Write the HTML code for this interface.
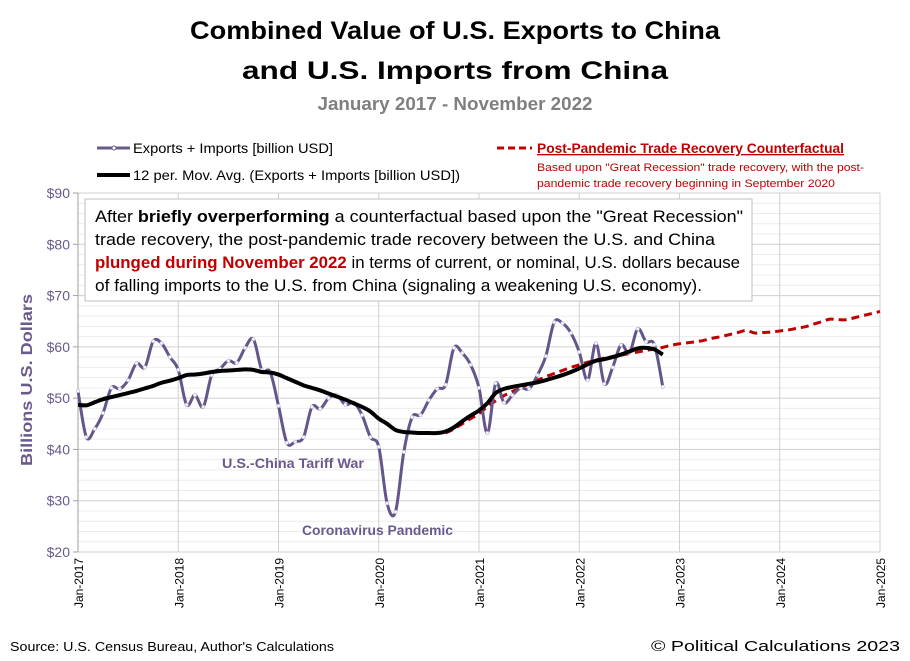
<!DOCTYPE html>
<html><head><meta charset="utf-8"><style>
body{margin:0;background:#fff;}
svg{display:block;font-family:"Liberation Sans",sans-serif;}
</style></head><body>
<svg id="chart" width="910" height="661" viewBox="0 0 910 661" xmlns="http://www.w3.org/2000/svg">
<rect width="910" height="661" fill="#fff"/>
<text x="455" y="39" text-anchor="middle" font-size="25" font-weight="bold" textLength="530" lengthAdjust="spacingAndGlyphs">Combined Value of U.S. Exports to China</text>
<text x="455" y="79" text-anchor="middle" font-size="25" font-weight="bold" textLength="426" lengthAdjust="spacingAndGlyphs">and U.S. Imports from China</text>
<text x="455" y="110" text-anchor="middle" font-size="18" font-weight="bold" fill="#7f7f7f" textLength="275" lengthAdjust="spacingAndGlyphs">January 2017 - November 2022</text>
<g id="grid"></g>
<g id="axes"></g>
<g id="series"></g>
<rect x="85" y="199" width="667" height="102" fill="#fff" stroke="#bfbfbf" stroke-width="1"/>
<g font-size="16.5">
<text x="95" y="222" textLength="648" lengthAdjust="spacingAndGlyphs">After <tspan font-weight="bold">briefly overperforming</tspan> a counterfactual based upon the "Great Recession"</text>
<text x="95" y="245" textLength="620" lengthAdjust="spacingAndGlyphs">trade recovery, the post-pandemic trade recovery between the U.S. and China</text>
<text x="95" y="268" textLength="645" lengthAdjust="spacingAndGlyphs"><tspan font-weight="bold" fill="#c00000">plunged during November 2022</tspan> in terms of current, or nominal, U.S. dollars because</text>
<text x="95" y="291" textLength="607" lengthAdjust="spacingAndGlyphs">of falling imports to the U.S. from China (signaling a weakening U.S. economy).</text>
</g>
<g>
<line x1="97" y1="148" x2="130" y2="148" stroke="#6a5a8c" stroke-width="3"/>
<circle cx="114" cy="148" r="2" fill="#fff" stroke="#6a5a8c"/>
<text x="133" y="153" font-size="13.5" textLength="200" lengthAdjust="spacingAndGlyphs">Exports + Imports [billion USD]</text>
<line x1="97" y1="175" x2="130" y2="175" stroke="#000" stroke-width="4"/>
<text x="133" y="180" font-size="13.5" textLength="327" lengthAdjust="spacingAndGlyphs">12 per. Mov. Avg. (Exports + Imports [billion USD])</text>
<line x1="497" y1="148" x2="532" y2="148" stroke="#c00000" stroke-width="3" stroke-dasharray="7,4"/>
<text x="537" y="153" font-size="13.5" font-weight="bold" fill="#c00000" text-decoration="underline" textLength="307" lengthAdjust="spacingAndGlyphs">Post-Pandemic Trade Recovery Counterfactual</text>
<text x="537" y="171" font-size="11" fill="#c00000" textLength="327" lengthAdjust="spacingAndGlyphs">Based upon "Great Recession" trade recovery, with the post-</text>
<text x="537" y="187" font-size="11" fill="#c00000" textLength="298" lengthAdjust="spacingAndGlyphs">pandemic trade recovery beginning in September  2020</text>
</g>
<text x="222" y="468" font-size="13.5" font-weight="bold" fill="#6a5a8c" textLength="142" lengthAdjust="spacingAndGlyphs">U.S.-China Tariff War</text>
<text x="302" y="535" font-size="13.5" font-weight="bold" fill="#6a5a8c" textLength="151" lengthAdjust="spacingAndGlyphs">Coronavirus Pandemic</text>
<text transform="translate(32,380) rotate(-90)" text-anchor="middle" font-size="16" font-weight="bold" fill="#6a5a8c" textLength="172" lengthAdjust="spacingAndGlyphs">Billions U.S. Dollars</text>
<text x="10" y="651" font-size="13" textLength="324" lengthAdjust="spacingAndGlyphs">Source: U.S. Census Bureau, Author's Calculations</text>
<text x="900" y="651" text-anchor="end" font-size="15" textLength="249" lengthAdjust="spacingAndGlyphs">© Political Calculations 2023</text>
</svg>
<script>
const yTicks=[20,30,40,50,60,70,80,90];
const yTickLabels=["$20","$30","$40","$50","$60","$70","$80","$90"];
const xTickLabels=["Jan-2017","Jan-2018","Jan-2019","Jan-2020","Jan-2021","Jan-2022","Jan-2023","Jan-2024","Jan-2025"];
const exportsImports=[51.4,42.4,44,47.1,52,51.8,53.5,56.8,56,61.1,60.7,58,
55.5,48.7,50.6,48.3,54.5,55.7,57.3,56.9,59.8,61.5,55.5,55.1,
48.5,41.3,41.5,42.4,48.3,47.9,50,50.6,48.7,49.1,46.7,42.4,
40.5,29.5,27.8,39.5,46.3,46.7,49.6,51.8,52.6,59.8,58.8,56.5,
52,43.2,52.9,49.1,50.6,52,51.8,54.5,58.2,64.8,64.6,62.7,
59,53.5,60.7,52.8,56,60.4,58.8,63.5,61,60.4,52.2];
const movingAvg=[48.7,48.6,49.2,49.8,50.2,50.6,51.0,51.4,51.9,52.4,53.0,53.4,
53.9,54.5,54.6,54.8,55.1,55.3,55.4,55.5,55.6,55.5,55.1,55.0,
54.6,53.9,53.2,52.5,52.0,51.5,50.9,50.3,49.7,49.0,48.3,47.4,
46.0,45.0,43.8,43.4,43.3,43.2,43.2,43.2,43.5,44.3,45.5,46.6,
47.6,49.0,51.0,51.8,52.2,52.5,52.8,53.1,53.5,54.0,54.5,55.1,
55.8,56.6,57.3,57.6,58.0,58.5,59.1,59.7,59.8,59.5,58.5];
const counterfactualStart=44; // month index (Sep 2020)
const counterfactual=[43.2,44.0,45.0,46.0,47.0,48.3,49.5,50.5,51.3,52.0,52.8,53.5,54.2,54.8,55.4,56.0,
56.5,57.0,57.4,57.8,58.1,58.4,58.7,59.0,59.3,59.6,59.9,60.3,
60.6,60.8,61.0,61.3,61.7,62.0,62.4,62.8,63.2,62.7,62.8,62.9,
63.1,63.3,63.6,63.9,64.4,64.9,65.4,65.3,65.3,65.7,66.1,66.5,66.9];

const NS="http://www.w3.org/2000/svg";
const L=78,R=880,T=193,B=552,yMin=20,yMax=90,months=96;
const xS=i=>L+(R-L)*i/months;
const yS=v=>B-(v-yMin)/(yMax-yMin)*(B-T);
function mk(tag,attrs,parent){const e=document.createElementNS(NS,tag);for(const k in attrs)e.setAttribute(k,attrs[k]);parent.appendChild(e);return e;}
const grid=document.getElementById('grid'),axes=document.getElementById('axes'),series=document.getElementById('series');
for(let v=yMin;v<=yMax;v+=2){
  const major=(v%10===0);
  const g=mk('line',{x1:L,x2:R,y1:yS(v),y2:yS(v),stroke:major?'#d0d0d0':'#ececec','stroke-width':1},grid);
  
  
}
xTickLabels.forEach((lab,k)=>{
  const x=xS(k*12);
  const g=mk('line',{x1:x,x2:x,y1:T,y2:B,stroke:'#d0d0d0','stroke-width':1},grid);
  
  
  const t=mk('text',{transform:`translate(${x+5},${B+6}) rotate(-90)`,'text-anchor':'end','font-size':12},axes);
  t.textContent=lab;
  
  
});
const ax=mk('line',{x1:L,x2:L,y1:T,y2:B,stroke:'#a0a0a0'},axes);


yTicks.forEach((v,k)=>{
  const tk=mk('line',{x1:L-5,x2:L,y1:yS(v),y2:yS(v),stroke:'#a0a0a0'},axes);
  
  
  const t=mk('text',{x:L-8,y:yS(v)+5,'text-anchor':'end','font-size':14,fill:'#6a5a8c'},axes);
  t.textContent=yTickLabels[k];
  
  
});
function smooth(pts){
  let d=`M${pts[0][0]},${pts[0][1]}`;
  for(let i=0;i<pts.length-1;i++){
    const p0=pts[i-1]||pts[i],p1=pts[i],p2=pts[i+1],p3=pts[i+2]||p2;
    const c1=[p1[0]+(p2[0]-p0[0])/6,p1[1]+(p2[1]-p0[1])/6];
    const c2=[p2[0]-(p3[0]-p1[0])/6,p2[1]-(p3[1]-p1[1])/6];
    d+=` C${c1[0]},${c1[1]} ${c2[0]},${c2[1]} ${p2[0]},${p2[1]}`;
  }
  return d;
}
const cfPts=counterfactual.map((v,i)=>[xS(counterfactualStart+i),yS(v)]);
const cf=mk('path',{d:smooth(cfPts),fill:'none',stroke:'#c00000','stroke-width':3,'stroke-dasharray':'8,5'},series);


const eiPts=exportsImports.map((v,i)=>[xS(i),yS(v)]);
const ei=mk('path',{d:smooth(eiPts),fill:'none',stroke:'#64558a','stroke-width':3},series);


eiPts.forEach(p=>{
  const c=mk('circle',{cx:p[0],cy:p[1],r:1.6,fill:'#fff',stroke:'#c8c0dc','stroke-width':0.8},series);
  
  
});
const maPts=movingAvg.map((v,i)=>[xS(i),yS(v)]);
const ma=mk('path',{d:smooth(maPts),fill:'none',stroke:'#000','stroke-width':4},series);


</script>
</body></html>
